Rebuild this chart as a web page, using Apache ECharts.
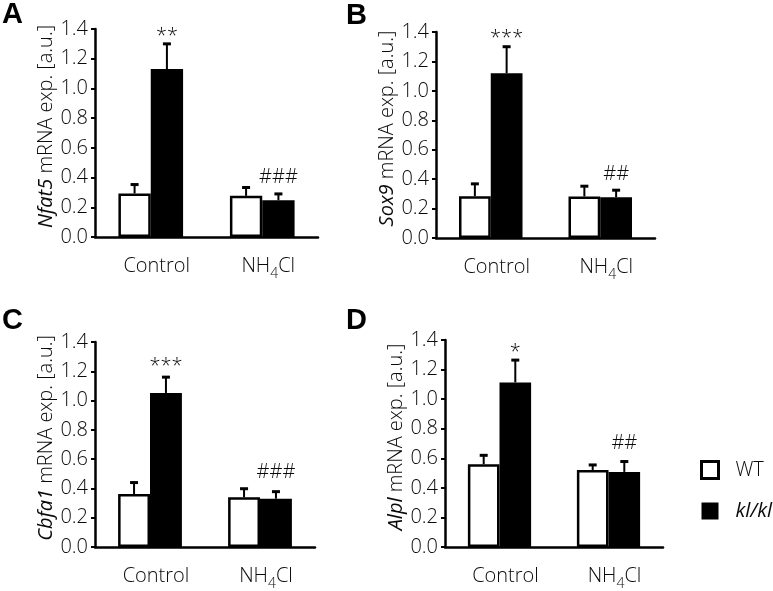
<!DOCTYPE html>
<html><head><meta charset="utf-8">
<script src="https://cdn.jsdelivr.net/npm/echarts@6/dist/echarts.min.js"></script>
<style>html,body{margin:0;padding:0;background:#fff}#c{width:773px;height:591px}</style>
</head><body><div id="c"></div>
<script>
// ---- data ----
const categories = ['Control', 'NH4Cl'];
const genes = ['Nfat5', 'Sox9', 'Cbfa1', 'Alpl'];
const panelLetters = ['A', 'B', 'C', 'D'];
const seriesNames = ['WT', 'kl/kl'];

const nfat5WT = [0.293, 0.277];
const nfat5WTErr = [0.060, 0.056];
const nfat5KL = [1.130, 0.248];
const nfat5KLErr = [0.170, 0.042];

const sox9WT = [0.284, 0.282];
const sox9WTErr = [0.084, 0.070];
const sox9KL = [1.120, 0.277];
const sox9KLErr = [0.180, 0.048];

const cbfa1WT = [0.362, 0.340];
const cbfa1WTErr = [0.078, 0.058];
const cbfa1KL = [1.052, 0.330];
const cbfa1KLErr = [0.108, 0.048];

const alplWT = [0.560, 0.521];
const alplWTErr = [0.060, 0.034];
const alplKL = [1.113, 0.508];
const alplKLErr = [0.151, 0.070];

// significance marks (placed over the kl/kl bars)
const nfat5Marks = ['**', '###'];
const nfat5MarkY = [1.35, 0.40];
const sox9Marks = ['***', '##'];
const sox9MarkY = [1.36, 0.435];
const cbfa1Marks = ['***', '###'];
const cbfa1MarkY = [1.235, 0.51];
const alplMarks = ['*', '##'];
const alplMarkY = [1.32, 0.70];

const yMin = 0, yMax = 1.4, yInterval = 0.2;

// ---- build ----
const panels = [
  {wt: nfat5WT, wtErr: nfat5WTErr, kl: nfat5KL, klErr: nfat5KLErr, marks: nfat5Marks, markY: nfat5MarkY},
  {wt: sox9WT, wtErr: sox9WTErr, kl: sox9KL, klErr: sox9KLErr, marks: sox9Marks, markY: sox9MarkY},
  {wt: cbfa1WT, wtErr: cbfa1WTErr, kl: cbfa1KL, klErr: cbfa1KLErr, marks: cbfa1Marks, markY: cbfa1MarkY},
  {wt: alplWT, wtErr: alplWTErr, kl: alplKL, klErr: alplKLErr, marks: alplMarks, markY: alplMarkY}
];
const grids = [
  {left: 95, top: 29, width: 223, height: 208},
  {left: 436, top: 32, width: 219, height: 206},
  {left: 95, top: 342, width: 220, height: 207},
  {left: 445, top: 340, width: 218, height: 207}
];
const letterPos = [[2, 0], [346, 1], [2, 306], [346, 306]];
const FONT = 'Open Sans';
const TXT = '#0a0a0a';
const BAR_FRAC = 0.29;

function errRender(side) {
  return function (params, api) {
    const c = api.value(0), m = api.value(1), e = api.value(2);
    const band = api.size([1, 0])[0];
    const bw = band * BAR_FRAC;
    const p0 = api.coord([c, m]);
    const p1 = api.coord([c, m + e]);
    const x = p0[0] + side * bw / 2;
    return {
      type: 'group',
      children: [
        {type: 'line', shape: {x1: x, y1: p0[1], x2: x, y2: p1[1]}, style: {stroke: '#000', lineWidth: 2}},
        {type: 'line', shape: {x1: x - 4, y1: p1[1], x2: x + 4, y2: p1[1]}, style: {stroke: '#000', lineWidth: 3}}
      ]
    };
  };
}
function markRender(texts) {
  return function (params, api) {
    const c = api.value(0), v = api.value(1);
    const band = api.size([1, 0])[0];
    const bw = band * BAR_FRAC;
    const p = api.coord([c, v]);
    return {
      type: 'text',
      x: p[0] + bw / 2, y: p[1],
      style: {text: texts[params.dataIndex], fill: TXT, fontSize: 20, fontFamily: FONT, fontWeight: 300,
        align: 'center', verticalAlign: 'middle'}
    };
  };
}

const option = {
  animation: false,
  backgroundColor: '#fff',
  grid: grids.map(g => Object.assign({containLabel: false}, g)),
  xAxis: [], yAxis: [], series: [],
  legend: {
    orient: 'vertical', left: 695, top: 455, itemWidth: 17, itemHeight: 17, itemGap: 21,
    selectedMode: false,
    data: [
      {name: 'WT', icon: 'rect', itemStyle: {color: '#fff', borderColor: '#000', borderWidth: 3}},
      {name: 'kl/kl', icon: 'rect', itemStyle: {color: '#000', borderColor: '#000', borderWidth: 0}}
    ],
    formatter: n => n === 'kl/kl' ? '{i|kl/kl}' : '{n|' + n + '}',
    textStyle: {fontSize: 20, color: TXT, fontFamily: FONT,
      rich: {
        i: {fontStyle: 'italic', fontSize: 20, fontFamily: FONT, fontWeight: 400, color: TXT, padding: [0, 0, 0, 12]},
        n: {fontSize: 20, fontFamily: FONT, fontWeight: 300, color: TXT, padding: [0, 0, 0, 12]}
      }}
  },
  graphic: panelLetters.map((L, i) => ({
    type: 'text', left: letterPos[i][0], top: letterPos[i][1],
    style: {text: L, fontSize: 29, fontWeight: 'bold', fontFamily: 'Liberation Sans', fill: '#000'}
  }))
};

panels.forEach((p, i) => {
  option.xAxis.push({
    gridIndex: i, type: 'category', data: categories,
    axisLine: {lineStyle: {color: '#000', width: 2.5}},
    axisTick: {show: false},
    axisLabel: {
      interval: 0, margin: 14, color: TXT, fontSize: 20, fontFamily: FONT, fontWeight: 300,
      formatter: v => v === 'NH4Cl' ? '{m|NH}{s|4}{m|Cl}' : '{m|' + v + '}',
      rich: {
        m: {fontSize: 20, fontFamily: FONT, fontWeight: 300, color: TXT, lineHeight: 30, verticalAlign: 'middle'},
        s: {fontSize: 14, fontFamily: FONT, fontWeight: 300, color: TXT, lineHeight: 30, verticalAlign: 'bottom'}
      },
      padding: [0, 0, 0, 12]
    }
  });
  option.yAxis.push({
    gridIndex: i, type: 'value', min: yMin, max: yMax, interval: yInterval,
    splitLine: {show: false},
    axisLine: {show: true, lineStyle: {color: '#000', width: 2.5}},
    axisTick: {show: true, length: 4, lineStyle: {color: '#000', width: 2}},
    axisLabel: {margin: 7, color: TXT, fontSize: 20, fontFamily: FONT, fontWeight: 300, formatter: v => v.toFixed(1)},
    name: '{i|' + genes[i] + '}{n| mRNA exp. [a.u.]}',
    nameLocation: 'middle', nameGap: 38,
    nameTextStyle: {
      fontSize: 20, fontFamily: FONT, color: TXT, padding: [0, 0, 0, 13],
      rich: {
        i: {fontStyle: 'italic', fontWeight: 500, fontSize: 20, fontFamily: FONT, color: TXT},
        n: {fontWeight: 300, fontSize: 20, fontFamily: FONT, color: TXT}
      }
    }
  });
  option.series.push({
    name: seriesNames[0], type: 'bar', xAxisIndex: i, yAxisIndex: i,
    data: p.wt, barWidth: (BAR_FRAC * 100) + '%', barGap: '0%', z: 3,
    itemStyle: {color: '#fff', borderColor: '#000', borderWidth: 2.5}
  });
  option.series.push({
    name: seriesNames[1], type: 'bar', xAxisIndex: i, yAxisIndex: i,
    data: p.kl, barWidth: (BAR_FRAC * 100) + '%', barGap: '0%', z: 3,
    itemStyle: {color: '#000', borderColor: '#000', borderWidth: 2.5}
  });
  option.series.push({
    type: 'custom', xAxisIndex: i, yAxisIndex: i, z: 2,
    renderItem: errRender(-1), encode: {x: 0, y: 1},
    data: categories.map((c, j) => [j, p.wt[j], p.wtErr[j]])
  });
  option.series.push({
    type: 'custom', xAxisIndex: i, yAxisIndex: i, z: 2,
    renderItem: errRender(1), encode: {x: 0, y: 1},
    data: categories.map((c, j) => [j, p.kl[j], p.klErr[j]])
  });
  option.series.push({
    type: 'custom', xAxisIndex: i, yAxisIndex: i, z: 4,
    renderItem: markRender(p.marks), encode: {x: 0, y: 1},
    data: categories.map((c, j) => [j, p.markY[j]])
  });
});

const chart = echarts.init(document.getElementById('c'), null, {renderer: 'canvas'});
chart.setOption(option);
</script>
</body></html>
